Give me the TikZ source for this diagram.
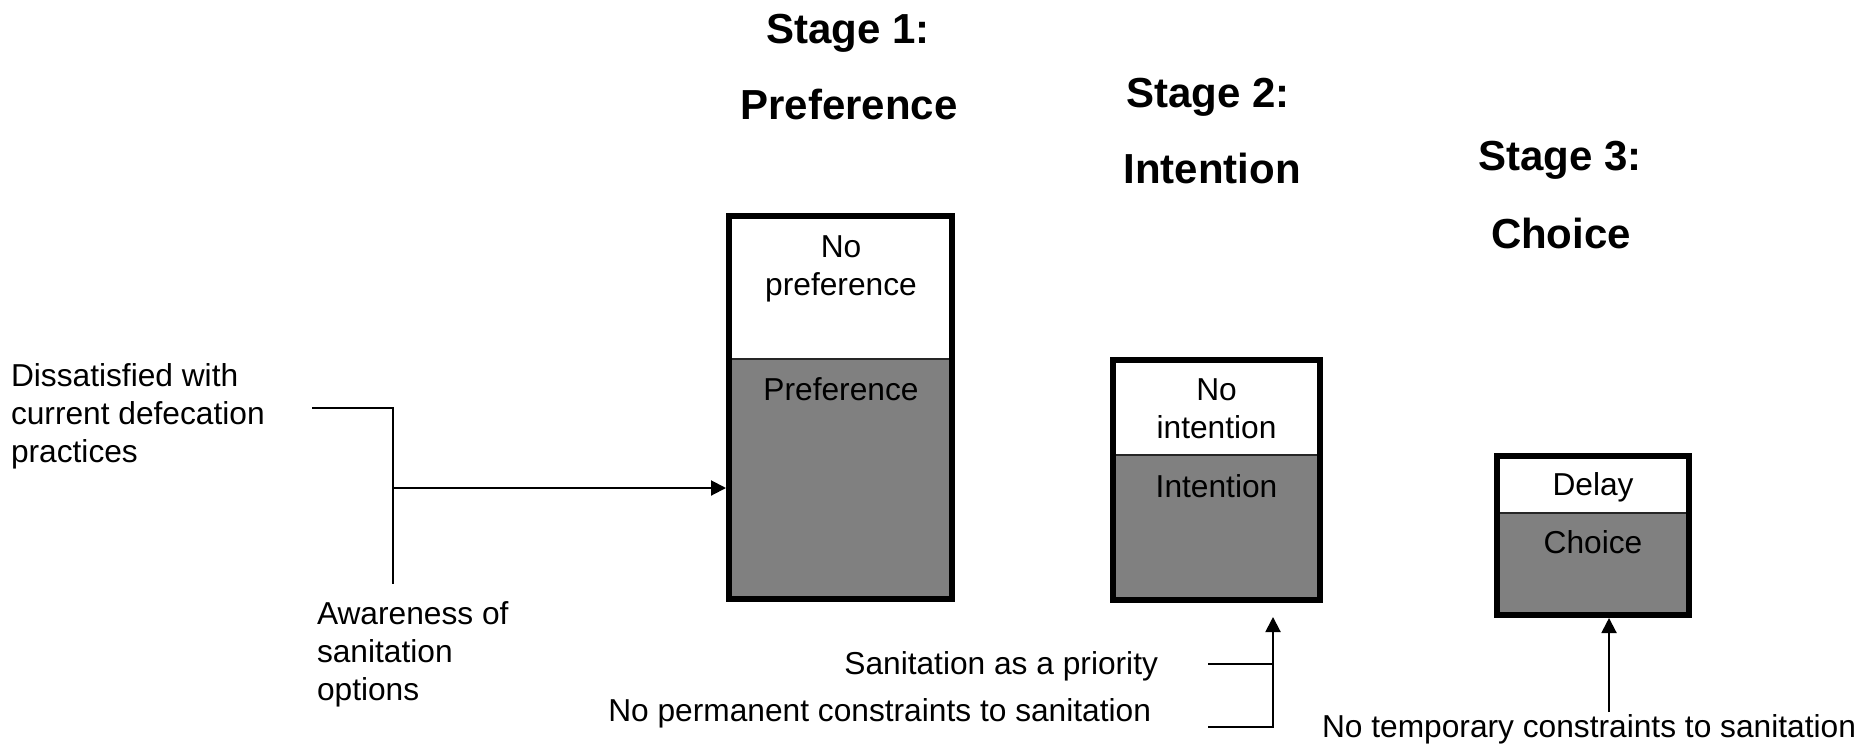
\documentclass[tikz,border=0pt]{standalone}
\usepackage{fontspec}
\setmainfont{Liberation Sans}
\usetikzlibrary{arrows.meta}
\definecolor{boxgray}{HTML}{808080}
\begin{document}
\begin{tikzpicture}[x=1pt,y=-1pt,
  txt/.style={font=\fontsize{31.7}{38}\selectfont, inner sep=0pt, outer sep=0pt},
  ttl/.style={font=\fontsize{42}{50}\selectfont\bfseries, inner sep=0pt, outer sep=0pt},
  frame/.style={draw=black, line width=6pt, inner sep=0pt, outer sep=3pt},
  lower/.style={fill=boxgray, draw=none, inner sep=0pt, outer sep=0pt},
  divider/.style={line width=2pt, draw=black!85},
  conn/.style={line width=2pt, line join=miter},
  arr/.style={conn, -{Triangle[length=15pt,width=15pt]}}]

\useasboundingbox (0,0) rectangle (1862,744);

% titles
\node[ttl, anchor=base] (s1a) at (848,43) {Stage 1:};
\node[ttl, anchor=base] (s1b) at (849,119) {Preference};
\node[ttl, anchor=base] (s2a) at (1208,107) {Stage 2:};
\node[ttl, anchor=base] (s2b) at (1212,183) {Intention};
\node[ttl, anchor=base] (s3a) at (1560,170) {Stage 3:};
\node[ttl, anchor=base] (s3b) at (1561,248) {Choice};

% box 1
\node[lower, minimum width=223pt, minimum height=240pt] (g1) at (840.5,479) {};
\draw[divider] (g1.north west) -- (g1.north east);
\node[frame, minimum width=223pt, minimum height=383pt] (b1) at (840.5,407.5) {};
\node[txt, anchor=base] (b1n1) at (841,257) {No};
\node[txt, anchor=base] (b1n2) at (841,295) {preference};
\node[txt, anchor=base] (b1p) at (841,400) {Preference};

% box 2
\node[lower, minimum width=207pt, minimum height=145pt] (g2) at (1216.5,527.5) {};
\draw[divider] (g2.north west) -- (g2.north east);
\node[frame, minimum width=207pt, minimum height=240pt] (b2) at (1216.5,480) {};
\node[txt, anchor=base] (b2n1) at (1216.5,400) {No};
\node[txt, anchor=base] (b2n2) at (1216.5,438) {intention};
\node[txt, anchor=base] (b2i) at (1216.5,497) {Intention};

% box 3
\node[lower, minimum width=192pt, minimum height=102pt] (g3) at (1593,564) {};
\draw[divider] (g3.north west) -- (g3.north east);
\node[frame, minimum width=192pt, minimum height=159pt] (b3) at (1593,535.5) {};
\node[txt, anchor=base] (b3d) at (1593,495) {Delay};
\node[txt, anchor=base] (b3c) at (1593,553) {Choice};

% left texts
\node[txt, anchor=base west] (d1) at (11,386) {Dissatisfied with};
\node[txt, anchor=base west] (d2) at (11,424) {current defecation};
\node[txt, anchor=base west] (d3) at (11,462) {practices};
\node[txt, anchor=base west] (a1) at (317,624) {Awareness of};
\node[txt, anchor=base west] (a2) at (317,662) {sanitation};
\node[txt, anchor=base west] (a3) at (317,700) {options};

% bottom texts
\node[txt, anchor=base east] (sp) at (1158,674) {Sanitation as a priority};
\node[txt, anchor=base east] (npc) at (1151,721) {No permanent constraints to sanitation};
\node[txt, anchor=base] (ntc) at (1589,737) {No temporary constraints to sanitation};

% connectors stage 1
\coordinate (la) at (312,408);
\coordinate (lb) at (393,584);
\coordinate (lj) at (393,488);
\draw[conn] (la) -| (lb);
\draw[arr] (lj) -- (lj -| b1.west);

% connectors stage 2
\coordinate (ma) at (1208,664);
\coordinate (mb) at (1208,727);
\coordinate (mt) at (1273,617);
\draw[conn] (ma) -- (ma -| mt);
\draw[arr] (mb) -| (mt);

% connector stage 3
\coordinate (tb) at (1609,712);
\draw[arr] (tb) -- (tb |- b3.south);
\end{tikzpicture}
\end{document}
